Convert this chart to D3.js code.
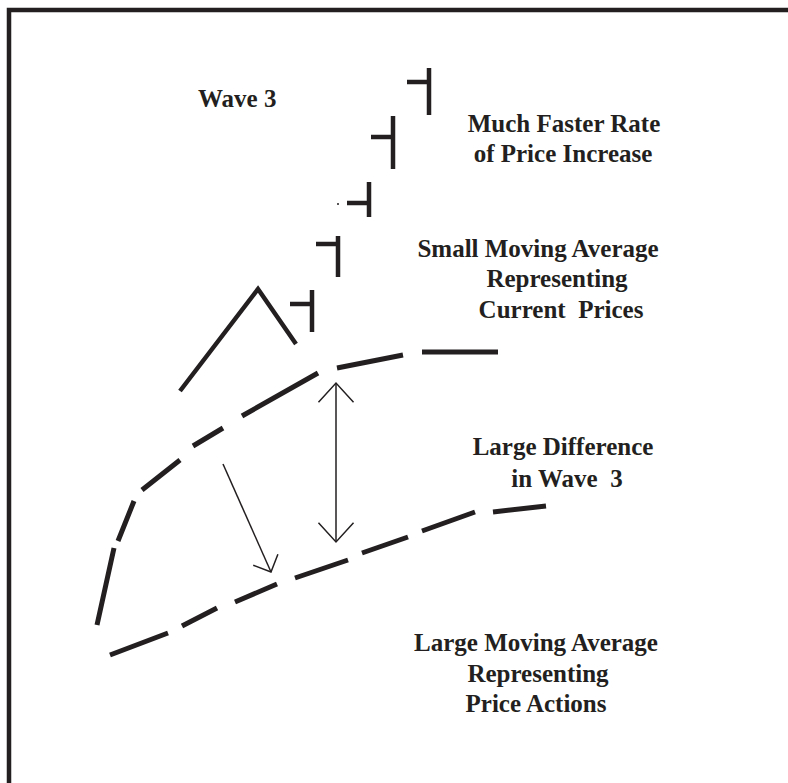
<!DOCTYPE html>
<html>
<head>
<meta charset="utf-8">
<script src="https://cdn.jsdelivr.net/npm/d3@7"></script>
</head>
<body style="margin:0;background:#fff">
<svg class="svg"></svg>
<script>
// chart units: time 0..120, price 0..150 (null = pen lifted)
let smallMA = [
  [4.25,13.75],[8.5,33], null,
  [9.5,34.75],[13.5,44.75], null,
  [15.5,47.5],[25,55], null,
  [28.25,58.5],[35.75,63], null,
  [40.5,66],[59.5,76.75], null,
  [64.25,78],[80.75,81.25], null,
  [85.5,82],[104.5,82]
]
let largeMA = [
  [7.5,6.25],[22,11.75], null,
  [25.5,13.5],[34.25,18], null,
  [38.75,19.5],[49.25,24], null,
  [53.75,25.5],[67,30], null,
  [70.5,31.75],[82,35.75], null,
  [85.5,37.25],[98.75,42], null,
  [103.25,42],[116.5,43.5]
]
let waveZig = [[25,72.25],[44.5,97.75],[54,84]]
// wave 3 bars: time, high, low, open
let barT = [58, 64.5, 72.25, 78.25, 87.25]
let barHigh = [97.5, 111, 124.5, 141, 153]
let barLow = [87, 100.75, 115.75, 127.75, 141.25]
let barOpen = [94, 109, 119.25, 135.75, 149.5]
let stray = [[64.5,119]]
// arrows: [from, to]
let diffArrow = [[64,74.25],[64,34.5]]
let dropArrow = [[35.75,54],[47.75,27]]

let labels = [
  ["Wave 3"],
  ["Much Faster Rate", "of Price Increase"],
  ["Small Moving Average", "Representing", "Current\u00a0 Prices"],
  ["Large Difference", "in Wave\u00a0 3"],
  ["Large Moving Average", "Representing", "Price Actions"]
]

let W = 788, H = 783
let ink = "#231f20"
let svg = d3.select(".svg").attr("width", W).attr("height", H).style("display","block")

let x = d3.scaleLinear().domain([0,120]).range([80,560])
let y = d3.scaleLinear().domain([0,150]).range([680,80])

// frame (runs off the right and bottom edge)
svg.append("rect").attr("x",9).attr("y",10).attr("width",820).attr("height",820)
  .attr("fill","none").attr("stroke",ink).attr("stroke-width",4.5)

let line = d3.line().defined(d => d).x(d => x(d[0])).y(d => y(d[1]))

svg.append("path").datum(smallMA).attr("d", line)
  .attr("fill","none").attr("stroke",ink).attr("stroke-width",5)
svg.append("path").datum(largeMA).attr("d", line)
  .attr("fill","none").attr("stroke",ink).attr("stroke-width",5)
svg.append("path").datum(waveZig).attr("d", line)
  .attr("fill","none").attr("stroke",ink).attr("stroke-width",4.5)

let bars = svg.append("g").attr("stroke",ink).attr("stroke-width",4.5)
bars.selectAll(".hl").data(barT).enter().append("line")
  .attr("x1",d => x(d)).attr("x2",d => x(d))
  .attr("y1",(d,i) => y(barHigh[i])).attr("y2",(d,i) => y(barLow[i]))
bars.selectAll(".op").data(barT).enter().append("line")
  .attr("x1",d => x(d) - 22).attr("x2",d => x(d))
  .attr("y1",(d,i) => y(barOpen[i])).attr("y2",(d,i) => y(barOpen[i]))

svg.selectAll(".dot").data(stray).enter().append("circle")
  .attr("cx",d => x(d[0])).attr("cy",d => y(d[1])).attr("r",1).attr("fill",ink)

let arrowHead = (tip, from, len, ang) => {
  let a = Math.atan2(from[1]-tip[1], from[0]-tip[0])
  return [[tip[0]+len*Math.cos(a-ang), tip[1]+len*Math.sin(a-ang)], tip,
          [tip[0]+len*Math.cos(a+ang), tip[1]+len*Math.sin(a+ang)]]
}
let drawArrow = (pts, both, len, ang) => {
  let p0 = [x(pts[0][0]), y(pts[0][1])], p1 = [x(pts[1][0]), y(pts[1][1])]
  let g = svg.append("g").attr("fill","none").attr("stroke",ink).attr("stroke-width",1.5)
  g.append("path").attr("d", d3.line()([p0,p1]))
  g.append("path").attr("d", d3.line()(arrowHead(p1,p0,len,ang)))
  if (both) g.append("path").attr("d", d3.line()(arrowHead(p0,p1,len,ang)))
}
drawArrow(diffArrow, true, 26, 0.74)
drawArrow(dropArrow, false, 19, 0.79)

// label layout: [anchor x, baseline, anchor]
let labelPos = [
  [[198,107,"start"]],
  [[564,132],[563,162]],
  [[538,257],[557,287],[561,318]],
  [[563,455],[567,487]],
  [[536,651],[538,682],[536,712]]
]
labels.forEach((lines,k) => {
  lines.forEach((t,j) => {
    let p = labelPos[k][j]
    svg.append("text").attr("x",p[0]).attr("y",p[1])
      .attr("text-anchor", p[2] || "middle")
      .attr("fill", ink)
      .style("font-family","'Liberation Serif'")
      .style("font-weight","bold")
      .style("font-size","25px")
      .text(t)
  })
})
</script>
</body>
</html>
